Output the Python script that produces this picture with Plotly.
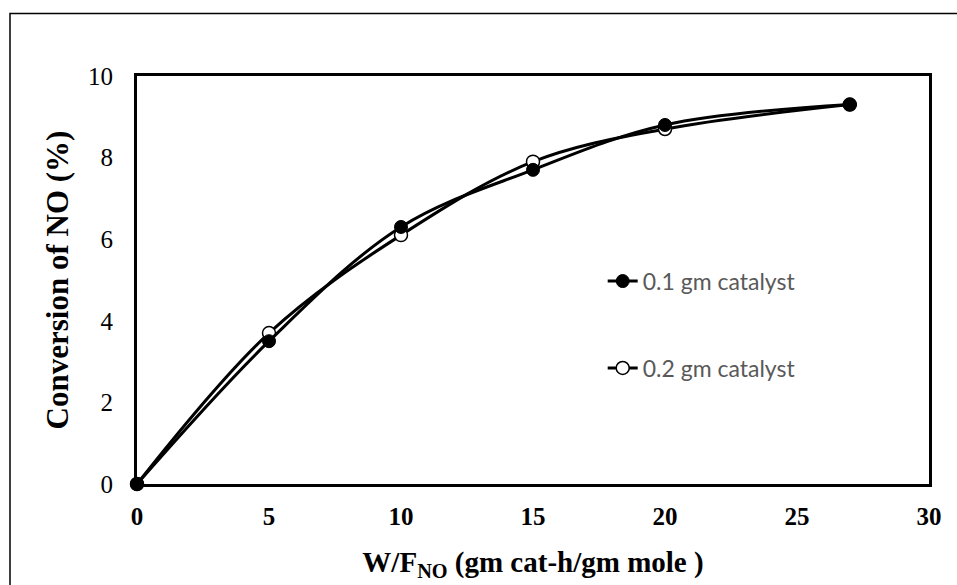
import plotly.graph_objects as go

# Data
x_vals = [0, 5, 10, 15, 20, 27]
conv_01 = [0, 3.5, 6.3, 7.7, 8.8, 9.3]
conv_02 = [0, 3.7, 6.1, 7.9, 8.7, 9.3]
x_ticks = [0, 5, 10, 15, 20, 25, 30]
y_ticks = [0, 2, 4, 6, 8, 10]
name_01 = "0.1 gm catalyst"
name_02 = "0.2 gm catalyst"

fig = go.Figure()

fig.add_trace(go.Scatter(
    x=x_vals, y=conv_02, name=name_02, mode="lines+markers",
    line=dict(color="black", width=3, shape="spline", smoothing=1),
    marker=dict(symbol="circle", size=13, color="white",
                line=dict(color="black", width=1.5)),
    cliponaxis=False, legendgroup="b", legendrank=2,
))
fig.add_trace(go.Scatter(
    x=x_vals, y=conv_01, name=name_01, mode="lines+markers",
    line=dict(color="black", width=3, shape="spline", smoothing=1),
    marker=dict(symbol="circle", size=13, color="black",
                line=dict(color="black", width=1)),
    cliponaxis=False, legendgroup="a", legendrank=1,
))

serif = "Liberation Serif, Times New Roman, serif"

fig.update_layout(
    width=957, height=585,
    margin=dict(l=137, r=28, t=76, b=98),
    paper_bgcolor="white", plot_bgcolor="white",
    showlegend=True,
    legend=dict(
        x=0.588, y=0.55, xanchor="left", yanchor="top",
        bgcolor="rgba(0,0,0,0)",
        font=dict(family="Lato, Carlito, Calibri, sans-serif", size=23, color="#595959"),
        tracegroupgap=54,
        itemwidth=30,
    ),
    xaxis=dict(
        range=[0, 30], tickvals=x_ticks, ticks="",
        showgrid=False, zeroline=False,
        showline=True, linecolor="black", linewidth=3, mirror=True,
        tickfont=dict(family=serif, size=25, color="black", weight="bold"),
        ticklabelstandoff=8,
        title=dict(
            text="W/F<sub>NO</sub> (gm cat-h/gm mole )",
            font=dict(family=serif, size=29, color="black", weight="bold"),
            standoff=23,
        ),
    ),
    yaxis=dict(
        range=[0, 10], tickvals=y_ticks, ticks="",
        showgrid=False, zeroline=False,
        showline=True, linecolor="black", linewidth=3, mirror=True,
        tickfont=dict(family=serif, size=25, color="black"),
        ticklabelstandoff=16,
        title=dict(
            text="Conversion of NO (%)",
            font=dict(family=serif, size=31, color="black", weight="bold"),
            standoff=11,
        ),
    ),
    shapes=[dict(
        type="rect", xref="paper", yref="paper",
        x0=(10 - 137) / 792, x1=1.2, y0=-0.6, y1=(487 - 13) / 411,
        line=dict(color="black", width=1.5), fillcolor="rgba(0,0,0,0)",
        layer="below",
    )],
)

fig.write_html("out.html")
